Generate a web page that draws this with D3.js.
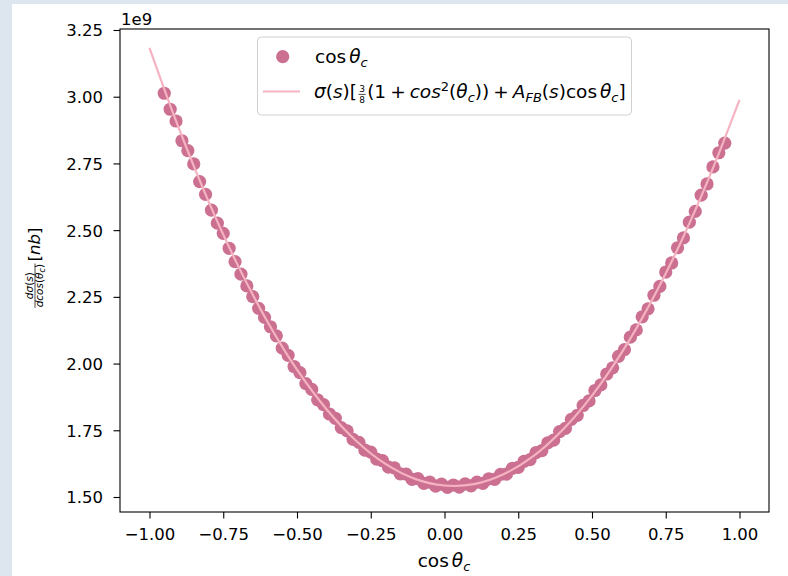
<!DOCTYPE html>
<html><head><meta charset="utf-8">
<script src="https://cdn.jsdelivr.net/npm/d3@7"></script>
<style>
body{margin:0;background:#dde5ee;}
svg{display:block;}
text{font-family:"DejaVu Sans",sans-serif;fill:#000;}
</style>
</head><body>
<svg id="chart" width="788" height="576"></svg>
<script>
// ---- data (y in units of 1e9 nb) ----
const xTicks = [-1.00, -0.75, -0.50, -0.25, 0.00, 0.25, 0.50, 0.75, 1.00];
const yTicks = [1.50, 1.75, 2.00, 2.25, 2.50, 2.75, 3.00, 3.25];
const pointX = [-0.95,-0.93,-0.91,-0.89,-0.87,-0.85,-0.83,-0.81,-0.79,-0.77,-0.75,-0.73,-0.71,-0.69,-0.67,-0.65,-0.63,-0.61,-0.59,-0.57,-0.55,-0.53,-0.51,-0.49,-0.47,-0.45,-0.43,-0.41,-0.39,-0.37,-0.35,-0.33,-0.31,-0.29,-0.27,-0.25,-0.23,-0.21,-0.19,-0.17,-0.15,-0.13,-0.11,-0.09,-0.07,-0.05,-0.03,-0.01,
  0.01,0.03,0.05,0.07,0.09,0.11,0.13,0.15,0.17,0.19,0.21,0.23,0.25,0.27,0.29,0.31,0.33,0.35,0.37,0.39,0.41,0.43,0.45,0.47,0.49,0.51,0.53,0.55,0.57,0.59,0.61,0.63,0.65,0.67,0.69,0.71,0.73,0.75,0.77,0.79,0.81,0.83,0.85,0.87,0.89,0.91,0.93,0.95];
const pointY = [3.013,2.953,2.909,2.835,2.798,2.748,2.682,2.634,2.575,2.526,2.488,2.432,2.382,2.335,2.291,2.251,2.207,2.173,2.138,2.104,2.058,2.031,1.989,1.966,1.925,1.903,1.864,1.846,1.811,1.795,1.760,1.748,1.716,1.705,1.676,1.668,1.642,1.636,1.612,1.609,1.587,1.586,1.566,1.569,1.551,1.556,1.541,1.548,
  1.536,1.545,1.537,1.549,1.542,1.556,1.551,1.568,1.566,1.585,1.586,1.607,1.611,1.634,1.640,1.666,1.674,1.703,1.713,1.745,1.757,1.791,1.806,1.843,1.860,1.899,1.920,1.961,1.984,2.027,2.052,2.099,2.126,2.175,2.205,2.256,2.289,2.343,2.377,2.434,2.471,2.530,2.570,2.631,2.673,2.737,2.790,2.826];
const lineX = [-1.0,-0.9,-0.8,-0.7,-0.6,-0.5,-0.4,-0.3,-0.2,-0.1,0.0,0.1,0.2,0.3,0.4,0.5,0.6,0.7,0.8,0.9,1.0];
const lineY = [3.183,2.880,2.608,2.367,2.157,1.977,1.829,1.711,1.624,1.568,1.543,1.548,1.585,1.652,1.751,1.880,2.040,2.231,2.452,2.705,2.988];

// ---- layout ----
const svg = d3.select('#chart');
const L = 120, R = 769, T = 29, B = 512;
const FS = 16.5;   // tick / plain text size
const MS = 18.5;   // mathtext size
const SUB = 13;
const x = d3.scaleLinear().domain([-1.1, 1.1]).range([L, R]);
const y = d3.scaleLinear().domain([1.4438, 3.2537]).range([B, T]);

svg.append('rect').attr('x', 12).attr('y', 4).attr('width', 776).attr('height', 572).attr('fill', '#fff');

// scatter
const pts = pointX.map((v, i) => [v, pointY[i]]);
svg.append('g').selectAll('circle').data(pts).join('circle')
  .attr('cx', d => x(d[0])).attr('cy', d => y(d[1])).attr('r', 6.6)
  .attr('fill', '#cc7092');

// fit line
const lineData = lineX.map((v, i) => [v, lineY[i]]);
svg.append('path').datum(lineData)
  .attr('d', d3.line().x(d => x(d[0])).y(d => y(d[1])).curve(d3.curveCatmullRom))
  .attr('fill', 'none').attr('stroke', '#f5b3c1').attr('stroke-width', 2.2);

// axes
const fmt = d3.format('.2f');
const gx = svg.append('g').attr('transform', `translate(0,${B})`)
  .call(d3.axisBottom(x).tickValues(xTicks).tickFormat(fmt).tickSize(6.5).tickPadding(9.5));
const gy = svg.append('g').attr('transform', `translate(${L},0)`)
  .call(d3.axisLeft(y).tickValues(yTicks).tickFormat(fmt).tickSize(6.5).tickPadding(10.5));
[gx, gy].forEach(g => {
  g.select('.domain').remove();
  g.selectAll('.tick line').attr('stroke', '#000').attr('stroke-width', 1.1);
  g.selectAll('.tick text').attr('font-size', FS).attr('font-family', '"DejaVu Sans",sans-serif').attr('fill', '#000');
});
gy.selectAll('.tick text').attr('dy', '0.36em');
svg.append('rect').attr('x', L).attr('y', T).attr('width', R - L).attr('height', B - T)
  .attr('fill', 'none').attr('stroke', '#000').attr('stroke-width', 1.1);

svg.append('text').attr('x', 121).attr('y', 25).attr('font-size', FS).text('1e9');

// ---- math text helper: one <text> per label, pieces as positioned tspans ----
function run(t, lp, parts, x0, y0, base) {
  let cx = x0;
  const nodes = [];
  for (const p of parts) {
    if (p.sp !== undefined) { cx += p.sp; continue; }
    if (p.frac) {
      const a = run(t, lp, p.num, 0, y0 + p.nDy, p.size);
      const b = run(t, lp, p.den, 0, y0 + p.dDy, p.size);
      const w = Math.max(a.w, b.w) + 2 * p.pad;
      a.nodes.forEach(n => n.attr('x', +n.attr('x') + cx + (w - a.w) / 2));
      b.nodes.forEach(n => n.attr('x', +n.attr('x') + cx + (w - b.w) / 2));
      lp.append('line').attr('x1', cx + 0.5).attr('x2', cx + w - 0.5)
        .attr('y1', y0 + p.bDy).attr('y2', y0 + p.bDy)
        .attr('stroke', '#000').attr('stroke-width', p.bw);
      nodes.push(...a.nodes, ...b.nodes);
      cx += w; continue;
    }
    const ts = t.append('tspan').attr('x', cx).attr('y', y0 + (p.dy || 0))
      .attr('font-size', p.size || base).attr('font-style', p.it ? 'italic' : 'normal').text(p.t);
    cx += ts.node().getComputedTextLength();
    nodes.push(ts);
  }
  return { w: cx - x0, nodes };
}
function mathLabel(parent, parts, x0, y0, base) {
  const g = parent.append('g');
  const t = g.append('text');
  const r = run(t, g, parts, x0, y0, base);
  return { g, w: r.w };
}
const I = (t, o) => Object.assign({ t, it: true }, o);
const N = (t, o) => Object.assign({ t }, o);
const S = n => ({ sp: n });
const cosTheta = [N('cos'), S(3), I('θ'), I('c', { size: SUB, dy: 4 })];

// x label
const xl = mathLabel(svg, cosTheta, 0, 567, MS);
xl.g.attr('transform', `translate(${444 - xl.w / 2},0)`);

// y label
const yparts = [
  { frac: true, size: 10.5, pad: 1, nDy: -7, dDy: 2.5, bDy: -5, bw: 0.7,
    num: [I('d'), I('σ'), N('('), I('s'), N(')')],
    den: [I('d'), I('cos'), N('('), I('θ'), I('c', { size: 8, dy: 2 }), N(')')] },
  S(1.5), N('['), I('nb'), N(']')
];
const yl = mathLabel(svg, yparts, 0, 0, FS);
yl.g.attr('transform', `translate(40,268) rotate(-90) translate(${-yl.w / 2},0)`);

// legend
const lg = svg.append('g');
lg.append('rect').attr('x', 257.5).attr('y', 37).attr('width', 374).attr('height', 78).attr('rx', 4)
  .attr('fill', '#fff').attr('fill-opacity', 0.8).attr('stroke', '#d0d0d0').attr('stroke-width', 1);
lg.append('circle').attr('cx', 282.7).attr('cy', 56.7).attr('r', 6.6).attr('fill', '#cc7092');
lg.append('line').attr('x1', 263).attr('x2', 300).attr('y1', 91.5).attr('y2', 91.5)
  .attr('stroke', '#f5b3c1').attr('stroke-width', 2.2);
mathLabel(lg, cosTheta, 315, 63, MS);
const legend2 = [
  I('σ'), N('('), I('s'), N(')['), S(1),
  { frac: true, size: 9, pad: 1.2, nDy: -5.6, dDy: 5.3, bDy: -3.6, bw: 0.7, num: [N('3')], den: [N('8')] },
  S(1), N('(1'), S(4), N('+'), S(4), I('cos'), N('2', { size: SUB, dy: -7.5 }), N('('), I('θ'), I('c', { size: SUB, dy: 4 }),
  N('))'), S(4), N('+'), S(4), I('A'), I('FB', { size: SUB, dy: 4 }), N('('), I('s'), N(')'),
  N('cos'), S(3), I('θ'), I('c', { size: SUB, dy: 4 }), N(']')
];
mathLabel(lg, legend2, 314, 98, MS);
</script>
</body></html>
